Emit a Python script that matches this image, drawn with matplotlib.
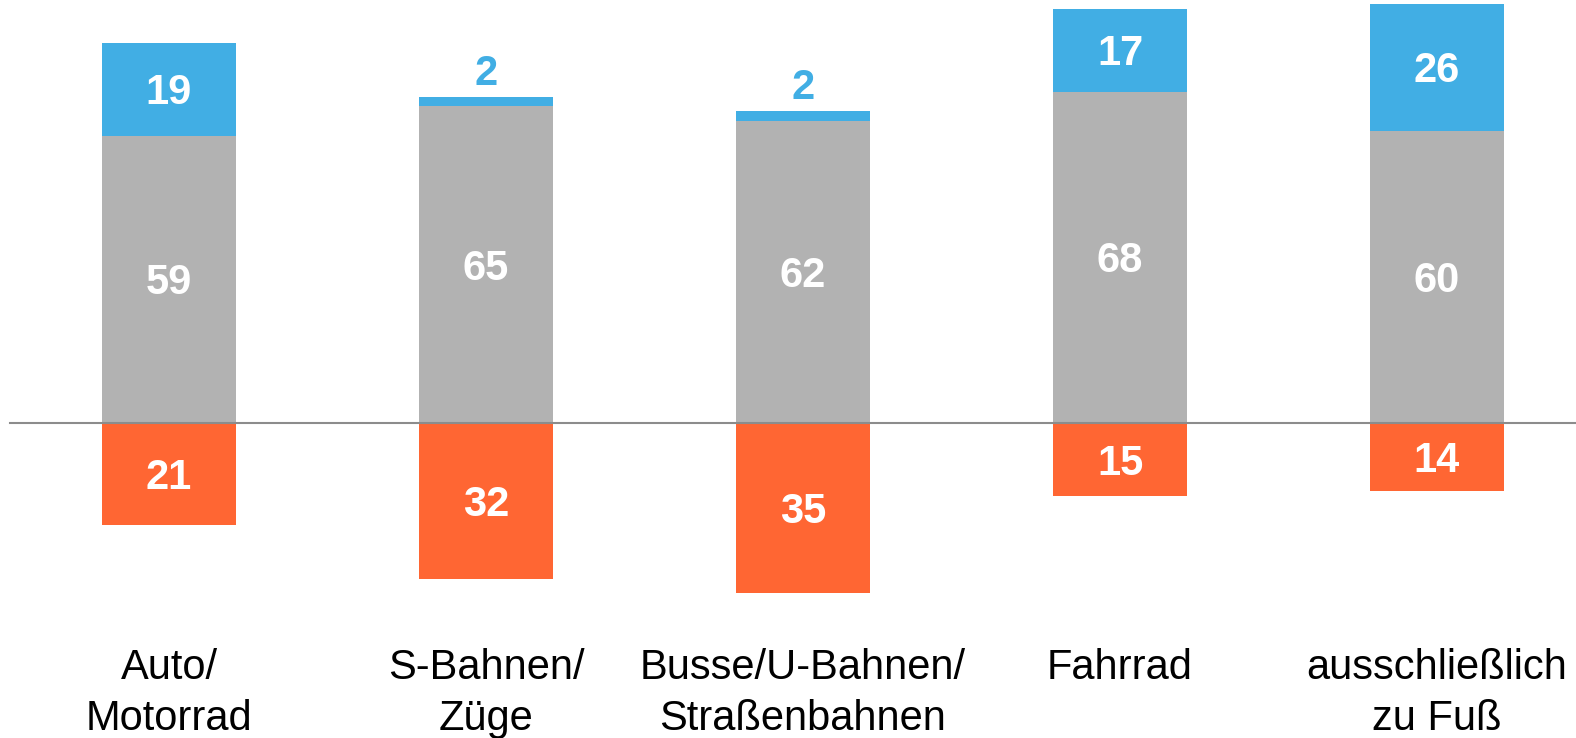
import numpy as np
import matplotlib.pyplot as plt

plt.rcParams['font.family'] = ['Liberation Sans', 'DejaVu Sans']

categories = ["Auto/\nMotorrad", "S-Bahnen/\nZüge", "Busse/U-Bahnen/\nStraßenbahnen",
              "Fahrrad", "ausschließlich\nzu Fuß"]
gray_vals = [59, 65, 62, 68, 60]
blue_vals = [19, 2, 2, 17, 26]
orange_vals = [21, 32, 35, 15, 14]

c_blue = "#41AEE4"
c_gray = "#B2B2B2"
c_orange = "#FF6633"

px = 4.87     # pixels per unit (vertical)
step = 317.0  # pixels between bar centres
x0 = 169.0    # pixel of first bar centre

fig = plt.figure(figsize=(15.76, 7.38), dpi=100)
ax = fig.add_axes([0, 0, 1, 1])

x = np.arange(len(categories))
w = 134.5 / step
gray = np.array(gray_vals)
blue = np.array(blue_vals)
orange = np.array(orange_vals)

ax.bar(x, gray, w, color=c_gray, zorder=2)
ax.bar(x, blue, w, bottom=gray, color=c_blue, zorder=2)
ax.bar(x, -orange, w, color=c_orange, zorder=2)
ax.axhline(0, xmin=10 / 1576, xmax=1, color="#8C8C8C", lw=1.5, zorder=3)

half_cap = 15 / px
num_kw = dict(ha="center", va="baseline", fontsize=30, fontweight="bold")
for i in range(len(x)):
    ax.text(x[i], gray[i] / 2 - half_cap, str(gray[i]), color="white", **num_kw)
    ax.text(x[i], -orange[i] / 2 - half_cap, str(orange[i]), color="white", **num_kw)
    if blue[i] >= 5:
        ax.text(x[i], gray[i] + blue[i] / 2 - half_cap, str(blue[i]), color="white", **num_kw)
    else:
        ax.text(x[i], gray[i] + blue[i] + 12 / px, str(blue[i]), color=c_blue, **num_kw)
    for j, line in enumerate(categories[i].split("\n")):
        ax.text(x[i], -(256 + 51 * j) / px, line, ha="center", va="baseline",
                color="black", fontsize=30)

ax.set_xlim(-x0 / step, (1576 - x0) / step)
ax.set_ylim(-315 / px, 423 / px)
ax.axis("off")

fig.savefig("out.png", dpi=100)
